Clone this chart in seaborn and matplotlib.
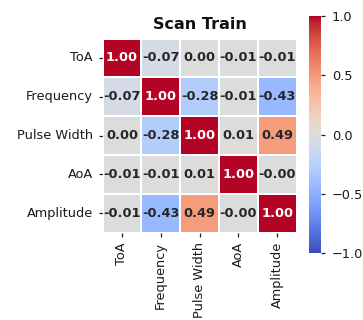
import numpy as np
import pandas as pd
import matplotlib
matplotlib.use("Agg")
import matplotlib.pyplot as plt
import seaborn as sns

features = ["ToA", "Frequency", "Pulse Width", "AoA", "Amplitude"]
row_toa = [1.00, -0.07, 0.00, -0.01, -0.01]
row_frequency = [-0.07, 1.00, -0.28, -0.01, -0.43]
row_pulse_width = [0.00, -0.28, 1.00, 0.01, 0.49]
row_aoa = [-0.01, -0.01, 0.01, 1.00, -0.00]
row_amplitude = [-0.01, -0.43, 0.49, -0.00, 1.00]
cbar_ticks = [-1.0, -0.5, 0.0, 0.5, 1.0]

corr = pd.DataFrame(
    [row_toa, row_frequency, row_pulse_width, row_aoa, row_amplitude],
    index=features, columns=features,
)

sns.set_theme(style="white")
plt.rcParams["font.family"] = ["DejaVu Sans"]

W, H = 363, 320
fig = plt.figure(figsize=(W / 100, H / 100), dpi=100)
ax = fig.add_axes([102.5 / W, (H - 232.5) / H, 194 / W, 194 / H])
cax = fig.add_axes([308.5 / W, (H - 253) / H, 12.2 / W, 237 / H])

sns.heatmap(
    corr, ax=ax, cbar_ax=cax, cmap="coolwarm", vmin=-1, vmax=1,
    annot=True, fmt=".2f", linewidths=1.1, linecolor="white",
    annot_kws={"fontsize": 9.3, "fontweight": "bold"},
)
ax.set_title("Scan Train", fontsize=11.5, fontweight="bold", pad=7, color="#111111")
ax.tick_params(axis="both", length=2.6, width=0.9, color="#222222", labelsize=9.3,
               labelcolor="#1a1a1a", pad=4.3, left=True, bottom=True)
ax.set_xticklabels(features, rotation=90)
ax.set_yticklabels(features, rotation=0)
cax.tick_params(length=2.8, width=0.9, color="#222222", labelsize=9.3,
                labelcolor="#1a1a1a", pad=5.3, right=True)
cax.set_yticks(cbar_ticks)

fig.savefig("out.png", dpi=100)
